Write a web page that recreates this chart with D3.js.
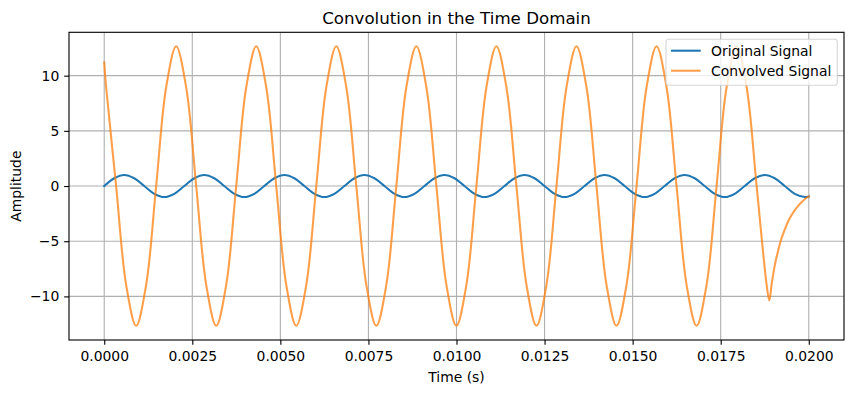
<!DOCTYPE html>
<html>
<head>
<meta charset="utf-8">
<script src="https://cdn.jsdelivr.net/npm/d3@7/dist/d3.min.js"></script>
<style>
  html, body { margin: 0; padding: 0; background: #fff; }
  svg { display: block; font-family: "DejaVu Sans", sans-serif; }
</style>
</head>
<body>
<svg id="chart" width="853" height="393"></svg>
<script>
// ---- Data ----
const timeOriginal = [
  0, 0.000284, 0.000568, 0.000852, 0.001136, 0.001420, 0.001705, 0.001989,
  0.002273, 0.002557, 0.002841, 0.003125, 0.003409, 0.003693, 0.003977, 0.004261,
  0.004545, 0.004830, 0.005114, 0.005398, 0.005682, 0.005966, 0.006250, 0.006534,
  0.006818, 0.007102, 0.007386, 0.007670, 0.007955, 0.008239, 0.008523, 0.008807,
  0.009091, 0.009375, 0.009659, 0.009943, 0.010227, 0.010511, 0.010795, 0.011080,
  0.011364, 0.011648, 0.011932, 0.012216, 0.012500, 0.012784, 0.013068, 0.013352,
  0.013636, 0.013920, 0.014205, 0.014489, 0.014773, 0.015057, 0.015341, 0.015625,
  0.015909, 0.016193, 0.016477, 0.016761, 0.017045, 0.017330, 0.017614, 0.017898,
  0.018182, 0.018466, 0.018750, 0.019034, 0.019318, 0.019602, 0.019886, 0.020000
];
const originalSignal = [
  0, 0.707, 1, 0.707, 0, -0.707, -1, -0.707,
  0, 0.707, 1, 0.707, 0, -0.707, -1, -0.707,
  0, 0.707, 1, 0.707, 0, -0.707, -1, -0.707,
  0, 0.707, 1, 0.707, 0, -0.707, -1, -0.707,
  0, 0.707, 1, 0.707, 0, -0.707, -1, -0.707,
  0, 0.707, 1, 0.707, 0, -0.707, -1, -0.707,
  0, 0.707, 1, 0.707, 0, -0.707, -1, -0.707,
  0, 0.707, 1, 0.707, 0, -0.707, -1, -0.707,
  0, 0.707, 1, 0.707, 0, -0.707, -1, -0.951
];
const timeConvolved = [
  0, 0.000054, 0.000338, 0.000622,
  0.000906, 0.001190, 0.001474, 0.001758, 0.002042, 0.002326, 0.002611, 0.002895,
  0.003179, 0.003463, 0.003747, 0.004031, 0.004315, 0.004599, 0.004883, 0.005167,
  0.005451, 0.005736, 0.006020, 0.006304, 0.006588, 0.006872, 0.007156, 0.007440,
  0.007724, 0.008008, 0.008292, 0.008576, 0.008861, 0.009145, 0.009429, 0.009713,
  0.009997, 0.010281, 0.010565, 0.010849, 0.011133, 0.011417, 0.011701, 0.011986,
  0.012270, 0.012554, 0.012838, 0.013122, 0.013406, 0.013690, 0.013974, 0.014258,
  0.014542, 0.014826, 0.015111, 0.015395, 0.015679, 0.015963, 0.016247, 0.016531,
  0.016815, 0.017099, 0.017383, 0.017667, 0.017951, 0.018236, 0.018520, 0.018804,
  0.018880, 0.018950, 0.019040, 0.019120, 0.019200, 0.019300, 0.019400, 0.019500,
  0.019600, 0.019700, 0.019800, 0.019900, 0.020000
];
const convolvedSignal = [
  11.2, 8.95, 0, -8.95,
  -12.66, -8.95, 0, 8.95, 12.66, 8.95, 0, -8.95,
  -12.66, -8.95, 0, 8.95, 12.66, 8.95, 0, -8.95,
  -12.66, -8.95, 0, 8.95, 12.66, 8.95, 0, -8.95,
  -12.66, -8.95, 0, 8.95, 12.66, 8.95, 0, -8.95,
  -12.66, -8.95, 0, 8.95, 12.66, 8.95, 0, -8.95,
  -12.66, -8.95, 0, 8.95, 12.66, 8.95, 0, -8.95,
  -12.66, -8.95, 0, 8.95, 12.66, 8.95, 0, -8.95,
  -12.66, -8.95, 0, 8.95, 12.66, 8.95, 0, -8.95,
  -10.36, -8.8, -7.1, -6.0, -5.0, -4.1, -3.3, -2.7,
  -2.2, -1.8, -1.45, -1.15, -0.93
];
const xTicks = [0, 0.0025, 0.005, 0.0075, 0.01, 0.0125, 0.015, 0.0175, 0.02];
const yTicks = [-10, -5, 0, 5, 10];
const seriesNames = ["Original Signal", "Convolved Signal"];
const seriesColors = ["#1f77b4", "#ff7f0e"];

// ---- Layout ----
const plot = { left: 69, right: 844, top: 32.3, bottom: 340 };
const FS = 13.9, TFS = 16.67, LW = 2.08, GW = 1.11, TL = 4.86;
const svg = d3.select("#chart");

const x = d3.scaleLinear().domain([-0.001, 0.021]).range([plot.left, plot.right]);
const y = d3.scaleLinear().domain([-13.95, 13.93]).range([plot.bottom, plot.top]);

// grid
const grid = svg.append("g");
grid.selectAll("line.gx").data(xTicks).join("line")
  .attr("x1", d => x(d)).attr("x2", d => x(d))
  .attr("y1", plot.top).attr("y2", plot.bottom)
  .attr("stroke", "#b0b0b0").attr("stroke-width", GW);
grid.selectAll("line.gy").data(yTicks).join("line")
  .attr("x1", plot.left).attr("x2", plot.right)
  .attr("y1", d => y(d)).attr("y2", d => y(d))
  .attr("stroke", "#b0b0b0").attr("stroke-width", GW);

// axes
const fmtX = d3.format(".4f");
const xAxis = d3.axisBottom(x).tickValues(xTicks).tickFormat(fmtX).tickSize(TL).tickPadding(TL);
const yAxis = d3.axisLeft(y).tickValues(yTicks).tickFormat(d => d < 0 ? "\u2212" + Math.abs(d) : String(d)).tickSize(TL).tickPadding(TL);

const gx = svg.append("g").attr("transform", `translate(0,${plot.bottom})`).call(xAxis);
const gy = svg.append("g").attr("transform", `translate(${plot.left},0)`).call(yAxis);
[gx, gy].forEach(g => {
  g.select(".domain").remove();
  g.selectAll(".tick line").attr("stroke", "#000").attr("stroke-width", GW);
  g.selectAll(".tick text").attr("fill", "#000").style("font-size", FS + "px").style("font-family", "DejaVu Sans");
});
gx.selectAll(".tick text").attr("dy", null).attr("y", 21);

// lines
const lineGen = d3.line().curve(d3.curveCatmullRom.alpha(0.5));
const lines = svg.append("g");
const blueData = timeOriginal.map((t, i) => [x(t), y(originalSignal[i])]);
const orangeData = timeConvolved.map((t, i) => [x(t), y(convolvedSignal[i])]);
lines.append("path").attr("d", lineGen(blueData))
  .attr("fill", "none").attr("stroke", seriesColors[0]).attr("stroke-width", LW)
  .attr("stroke-linejoin", "round").attr("stroke-linecap", "square");
lines.append("path").attr("d", lineGen(orangeData))
  .attr("fill", "none").attr("stroke", seriesColors[1]).attr("stroke-opacity", 0.75).attr("stroke-width", LW)
  .attr("stroke-linejoin", "round").attr("stroke-linecap", "square");

// frame
svg.append("rect")
  .attr("x", plot.left).attr("y", plot.top)
  .attr("width", plot.right - plot.left).attr("height", plot.bottom - plot.top)
  .attr("fill", "none").attr("stroke", "#000").attr("stroke-width", GW);

// title & labels
svg.append("text").attr("x", (plot.left + plot.right) / 2).attr("y", 24)
  .attr("text-anchor", "middle").style("font-size", TFS + "px").attr("fill", "#000")
  .text("Convolution in the Time Domain");
svg.append("text").attr("x", (plot.left + plot.right) / 2).attr("y", 382)
  .attr("text-anchor", "middle").style("font-size", FS + "px").attr("fill", "#000")
  .text("Time (s)");
svg.append("text").attr("transform", `translate(21,${(plot.top + plot.bottom) / 2}) rotate(-90)`)
  .attr("text-anchor", "middle").style("font-size", FS + "px").attr("fill", "#000")
  .text("Amplitude");

// legend
const leg = svg.append("g");
leg.append("rect").attr("x", 666).attr("y", 39.3).attr("width", 171.3).attr("height", 46)
  .attr("rx", 2.8).attr("fill", "#fff").attr("fill-opacity", 0.8)
  .attr("stroke", "#cccccc").attr("stroke-opacity", 0.8).attr("stroke-width", GW);
seriesNames.forEach((name, i) => {
  const cy = 50.7 + i * 20;
  leg.append("line").attr("x1", 671).attr("x2", 700.7).attr("y1", cy).attr("y2", cy)
    .attr("stroke", seriesColors[i]).attr("stroke-width", LW)
    .attr("stroke-opacity", i === 1 ? 0.75 : 1);
  leg.append("text").attr("x", 711).attr("y", cy).attr("dy", "0.36em")
    .style("font-size", FS + "px").attr("fill", "#000").text(name);
});
</script>
</body>
</html>
